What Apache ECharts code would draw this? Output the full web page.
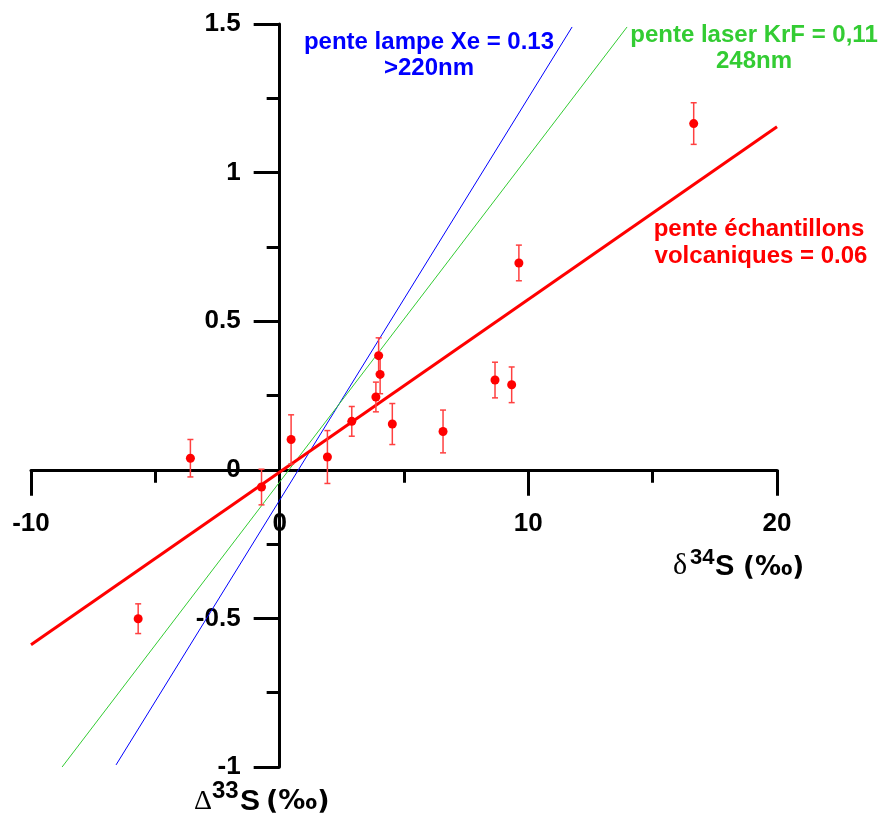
<!DOCTYPE html>
<html><head><meta charset="utf-8">
<script src="https://cdn.jsdelivr.net/npm/echarts@6/dist/echarts.min.js"></script>
<style>html,body{margin:0;padding:0;background:#fff}#c{width:880px;height:819px}</style>
</head><body><div id="c"></div>
<script>
// Sample data: delta34S (x), Delta33S (y), error (±)
const sampleD34S = [-5.69, -3.59, -0.73, 0.46, 1.92, 2.90, 3.87, 3.98, 4.04, 4.53, 6.57, 8.66, 9.33, 9.62, 16.65];
const sampleD33S = [-0.501, 0.039, -0.058, 0.102, 0.043, 0.163, 0.245, 0.384, 0.321, 0.154, 0.129, 0.302, 0.286, 0.696, 1.165];
const sampleErr  = [0.05, 0.063, 0.06, 0.083, 0.089, 0.05, 0.05, 0.06, 0.065, 0.069, 0.072, 0.06, 0.06, 0.06, 0.07];

// Regression / reference lines (end points)
const volcanicLineX = [-10, 20];
const volcanicLineY = [-0.589, 1.154];
const xeLampLineX = [-6.58, 11.76];
const xeLampLineY = [-0.993, 1.49];
const krfLaserLineX = [-8.75, 13.97];
const krfLaserLineY = [-1.0, 1.49];

const xAxisRange = [-10, 20];
const yAxisRange = [-1, 1.5];

const RED = '#ff0000', BLUE = '#0000ff', GREEN = '#33cc33';
const FONT = 'Liberation Sans, Arial, sans-serif';

const pts = sampleD34S.map((x, i) => [x, sampleD33S[i], sampleErr[i]]);
const pair = (xs, ys) => xs.map((x, i) => [x, ys[i]]);

// grid geometry
const W = 880, H = 819;
const G = {left: 31, right: 103, top: 24, bottom: 52};
const gw = W - G.left - G.right, gh = H - G.top - G.bottom;
// shift axes so they cross at the origin
const xAxisOffset = -gh * (0 - yAxisRange[0]) / (yAxisRange[1] - yAxisRange[0]);
const yAxisOffset = -gw * (0 - xAxisRange[0]) / (xAxisRange[1] - xAxisRange[0]);

const chart = echarts.init(document.getElementById('c'), null, {renderer: 'canvas'});

function txt(text, x, y, font, fill, align) {
  return {type: 'text', x: x, y: y, z: 100,
    style: {text: text, font: font, fill: fill, align: align || 'left', verticalAlign: 'middle'}};
}

chart.setOption({
  animation: false,
  backgroundColor: '#fff',
  grid: Object.assign({containLabel: false, outerBoundsMode: 'none'}, G),
  xAxis: {
    type: 'value', min: xAxisRange[0], max: xAxisRange[1], interval: 10,
    position: 'bottom', offset: xAxisOffset,
    axisLine: {onZero: false, lineStyle: {color: '#000', width: 3}},
    axisTick: {show: true, length: 26, lineStyle: {color: '#000', width: 3}},
    minorTick: {show: true, splitNumber: 2, length: 13, lineStyle: {color: '#000', width: 3}},
    splitLine: {show: false},
    axisLabel: {margin: 41, fontFamily: FONT, fontWeight: 'bold', fontSize: 26, color: '#000'}
  },
  yAxis: {
    type: 'value', min: yAxisRange[0], max: yAxisRange[1], interval: 0.5,
    position: 'left', offset: yAxisOffset,
    axisLine: {onZero: false, lineStyle: {color: '#000', width: 3}},
    axisTick: {show: true, length: 26, lineStyle: {color: '#000', width: 3}},
    minorTick: {show: true, splitNumber: 2, length: 13, lineStyle: {color: '#000', width: 3}},
    splitLine: {show: false},
    axisLabel: {margin: 39, fontFamily: FONT, fontWeight: 'bold', fontSize: 26, color: '#000'}
  },
  series: [
    {type: 'line', data: pair(xeLampLineX, xeLampLineY), symbol: 'none', clip: false, z: 3,
     lineStyle: {color: BLUE, width: 1}},
    {type: 'line', data: pair(krfLaserLineX, krfLaserLineY), symbol: 'none', clip: false, z: 3,
     lineStyle: {color: GREEN, width: 1}},
    {type: 'line', data: pair(volcanicLineX, volcanicLineY), symbol: 'none', clip: false, z: 4,
     lineStyle: {color: RED, width: 3}},
    {type: 'custom', data: pts, z: 5, clip: false,
     renderItem: function (params, api) {
       const x = api.value(0), y = api.value(1), e = api.value(2);
       const t = api.coord([x, y + e]), b = api.coord([x, y - e]);
       const w = 3, st = {stroke: '#ff4040', lineWidth: 1.5};
       return {type: 'group', children: [
         {type: 'line', shape: {x1: t[0], y1: t[1], x2: b[0], y2: b[1]}, style: st},
         {type: 'line', shape: {x1: t[0] - w, y1: t[1], x2: t[0] + w, y2: t[1]}, style: st},
         {type: 'line', shape: {x1: b[0] - w, y1: b[1], x2: b[0] + w, y2: b[1]}, style: st}
       ]};
     }},
    {type: 'scatter', data: pts.map(p => [p[0], p[1]]), symbol: 'circle', symbolSize: 9, z: 6,
     itemStyle: {color: RED, opacity: 1}}
  ],
  graphic: [
    txt('pente lampe Xe = 0.13', 429, 42, 'bold 24px ' + FONT, BLUE, 'center'),
    txt('>220nm', 429, 68, 'bold 24px ' + FONT, BLUE, 'center'),
    txt('pente laser KrF = 0,11', 754, 35, 'bold 24px ' + FONT, GREEN, 'center'),
    txt('248nm', 754, 61, 'bold 24px ' + FONT, GREEN, 'center'),
    txt('pente échantillons', 759, 229, 'bold 24px ' + FONT, RED, 'center'),
    txt('volcaniques = 0.06', 761, 256, 'bold 24px ' + FONT, RED, 'center'),
    // x axis title
    txt('δ', 673, 566, '30px Liberation Serif, serif', '#000'),
    txt('34', 690, 558, 'bold 22px ' + FONT, '#000'),
    txt('S', 715, 567, 'bold 29px ' + FONT, '#000'),
    txt('(‰)', 743, 568, 'bold 26px DejaVu Sans, sans-serif', '#000'),
    // y axis title
    txt('Δ', 194, 802, '28px Liberation Serif, serif', '#000'),
    txt('33', 212, 791, 'bold 24px ' + FONT, '#000'),
    txt('S', 240, 802, 'bold 30px ' + FONT, '#000'),
    txt('(‰)', 266, 802, 'bold 27px DejaVu Sans, sans-serif', '#000')
  ]
});
</script>
</body></html>
